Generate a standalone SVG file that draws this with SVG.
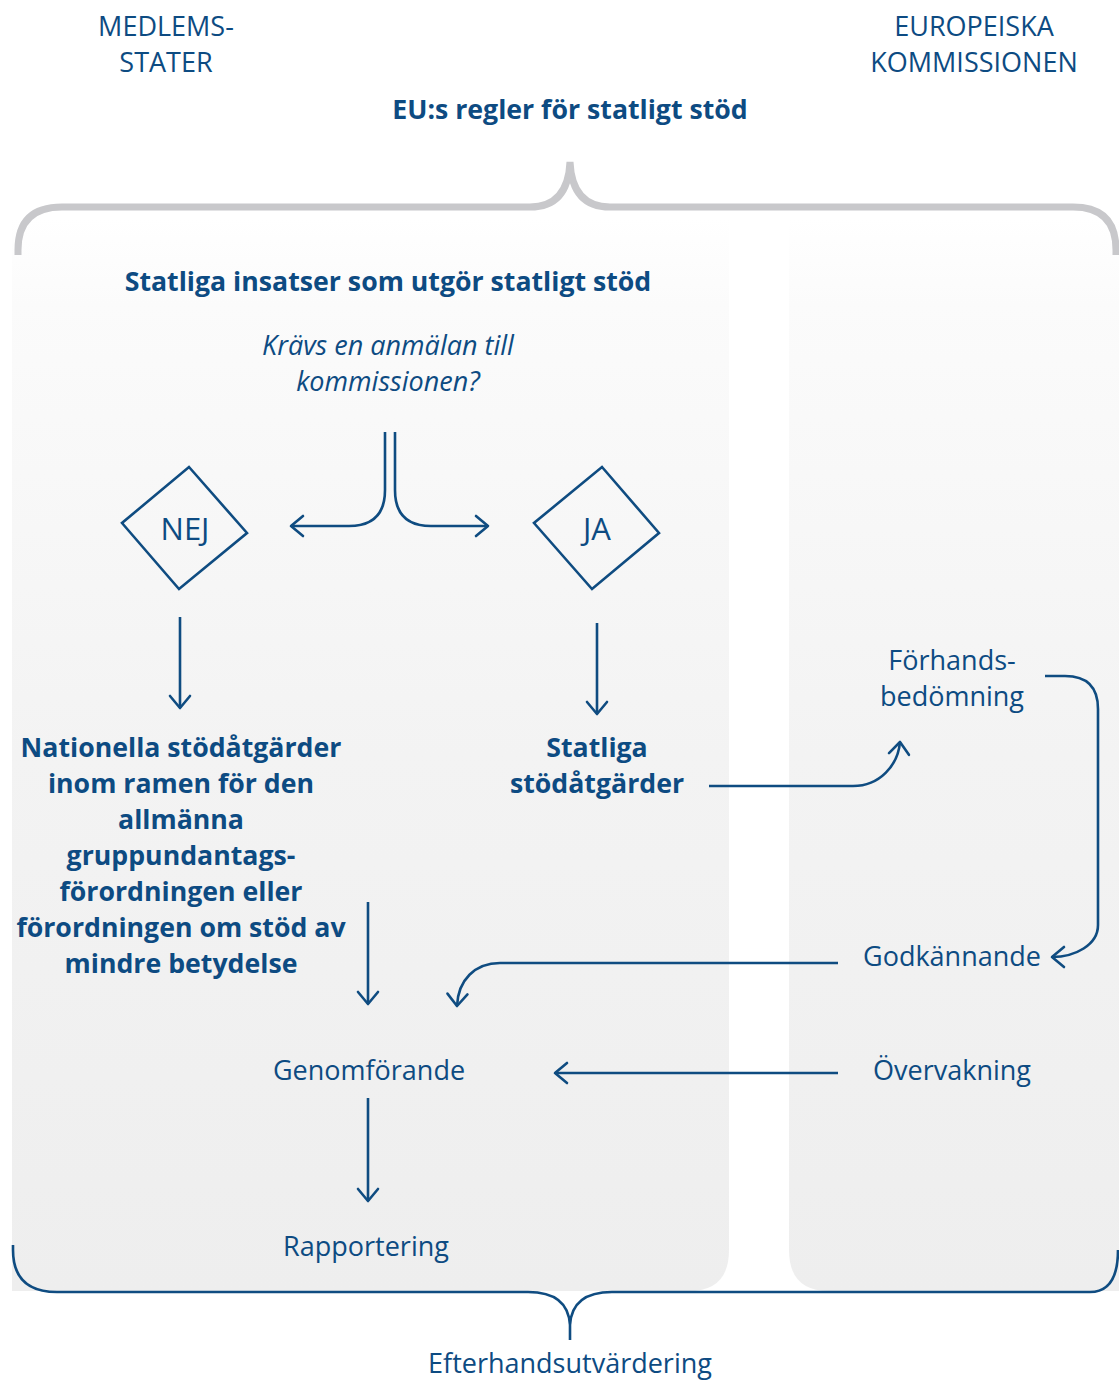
<svg xmlns="http://www.w3.org/2000/svg" width="1119" height="1380" viewBox="0 0 1119 1380">
<defs>
<linearGradient id="pg" x1="0" y1="0" x2="0" y2="1">
<stop offset="0" stop-color="#ffffff"/>
<stop offset="0.08" stop-color="#fbfbfb"/>
<stop offset="0.5" stop-color="#f3f3f3"/>
<stop offset="1" stop-color="#eeeeee"/>
</linearGradient>
<marker id="ah" markerUnits="userSpaceOnUse" markerWidth="30" markerHeight="30" viewBox="-15 -15 30 30" refX="0" refY="0" orient="auto">
<path d="M-12,-10 L0,0 L-12,10" fill="none" stroke="#0f4c81" stroke-width="2.6" stroke-linecap="round" stroke-linejoin="round"/>
</marker>
<style>
text{font-family:"Open Sans","Noto Sans","Liberation Sans",sans-serif;fill:#0d4b82;text-anchor:middle}
.r{font-size:27px}
.b{font-size:26.7px;font-weight:bold}
.i{font-size:27px;font-style:italic}
.d{font-size:31px}
.ln{fill:none;stroke:#0f4c81;stroke-width:2.6}
.arr{marker-end:url(#ah)}
.dia{fill:none;stroke:#0f4c81;stroke-width:2.6;stroke-linejoin:miter}
</style>
</defs>
<rect width="1119" height="1380" fill="#ffffff"/>
<g id="panels">
<path d="M12,218 H729 V1250 Q729,1291 689,1291 H12 Z" fill="url(#pg)"/>
<path d="M789,218 H1119 V1291 H829 Q789,1291 789,1250 Z" fill="url(#pg)"/>
</g>
<g id="brackets">
<path d="M18,255 V250 Q18,207 62,207 H530 Q568,207 570,162 Q572,207 610,207 H1073 Q1116,207 1116,250 V255" fill="none" stroke="#c8c8cb" stroke-width="7"/>
<path d="M13,1245 V1250 Q13,1292 57,1292 H528 Q568,1292 570,1325 V1340 M570,1325 Q572,1292 612,1292 H1090 Q1118,1292 1118,1250" fill="none" stroke="#0f4c81" stroke-width="2.6"/>
</g>
<g id="headers">
<text class="r" x="166" y="36">MEDLEMS-</text>
<text class="r" x="166" y="72">STATER</text>
<text class="r" x="974" y="36">EUROPEISKA</text>
<text class="r" x="974" y="72">KOMMISSIONEN</text>
<text class="b" x="570" y="119">EU:s regler för statligt stöd</text>
<text class="b" x="388" y="291">Statliga insatser som utgör statligt stöd</text>
<text class="i" x="388" y="355">Krävs en anmälan till</text>
<text class="i" x="388" y="391">kommissionen?</text>
<text class="r" x="570" y="1373">Efterhandsutvärdering</text>
</g>
<g id="nej">
<polygon class="dia" points="189,467 247,533 179,589 122,523"/>
<text class="d" x="185" y="540">NEJ</text>
</g>
<g id="ja">
<polygon class="dia" points="602,467 659,533 592,589 534,523"/>
<text class="d" x="597" y="540">JA</text>
</g>
<g id="nationella">
<text class="b" x="181" y="757">Nationella stödåtgärder</text>
<text class="b" x="181" y="793">inom ramen för den</text>
<text class="b" x="181" y="829">allmänna</text>
<text class="b" x="181" y="865">gruppundantags-</text>
<text class="b" x="181" y="901">förordningen eller</text>
<text class="b" x="181" y="937">förordningen om stöd av</text>
<text class="b" x="181" y="973">mindre betydelse</text>
</g>
<g id="statliga">
<text class="b" x="597" y="757">Statliga</text>
<text class="b" x="597" y="793">stödåtgärder</text>
</g>
<g id="forhand">
<text class="r" x="952" y="670">Förhands-</text>
<text class="r" x="952" y="706">bedömning</text>
</g>
<g id="godkannande">
<text class="r" x="952" y="966">Godkännande</text>
</g>
<g id="overvakning">
<text class="r" x="952" y="1080">Övervakning</text>
</g>
<g id="genomforande">
<text class="r" x="369" y="1080">Genomförande</text>
</g>
<g id="rapportering">
<text class="r" x="366" y="1256">Rapportering</text>
</g>
<g id="connectors">
<path class="ln arr" d="M385,432 V490 Q385,526 349,526 H291"/>
<path class="ln arr" d="M395,432 V490 Q395,526 431,526 H488"/>
<path class="ln arr" d="M180,617 V708"/>
<path class="ln arr" d="M597,623 V714"/>
<path class="ln arr" d="M709,786 H853 C880,786 898,765 900,742"/>
<path class="ln arr" d="M1045,676 H1065 Q1098,676 1098,709 V925 C1098,945 1075,957 1052,957"/>
<path class="ln arr" d="M838,963 H500 C475,963 458,980 457,1006"/>
<path class="ln arr" d="M838,1073 H555"/>
<path class="ln arr" d="M368,902 V1004"/>
<path class="ln arr" d="M368,1098 V1201"/>
</g>
</svg>
